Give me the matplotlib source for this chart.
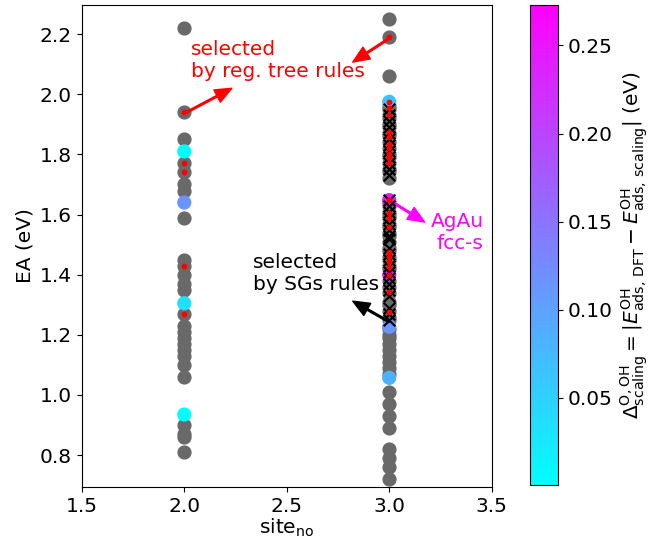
import numpy as np
import matplotlib
matplotlib.use("Agg")
import matplotlib.pyplot as plt

plt.rcParams['font.size'] = 14.5

# grey points (sites without scaling error colour)
ea_site2 = [2.22, 1.94, 1.85, 1.77, 1.74, 1.70, 1.68, 1.59, 1.45, 1.43, 1.40, 1.37,
            1.35, 1.27, 1.23, 1.21, 1.19, 1.17, 1.15, 1.13, 1.10, 1.06, 0.90, 0.87,
            0.86, 0.81]
ea_site3 = [2.25, 2.19, 2.06, 1.96, 1.95, 1.93, 1.92, 1.90, 1.89, 1.87, 1.86, 1.84,
            1.82, 1.80, 1.79, 1.77, 1.75, 1.74, 1.72, 1.64, 1.63, 1.61, 1.60, 1.59,
            1.57, 1.56, 1.54, 1.53, 1.51, 1.49, 1.48, 1.46, 1.45, 1.43, 1.42, 1.38,
            1.36, 1.34, 1.31, 1.30, 1.28, 1.26, 1.25, 1.22, 1.20, 1.19, 1.17, 1.15,
            1.13, 1.11, 1.09, 1.07, 1.01, 0.97, 0.93, 0.89, 0.82, 0.79, 0.76, 0.72]

# coloured points: site, EA, delta scaling
col_site = [2, 2, 2, 2, 3, 3, 3, 3, 3]
col_ea = [1.81, 1.64, 1.305, 0.935, 1.975, 1.648, 1.399, 1.227, 1.057]
col_delta = [0.004, 0.115, 0.035, 0.004, 0.065, 0.25, 0.25, 0.115, 0.085]

# selected by regression tree rules (red dots)
tree_site = [2, 2, 2, 2, 2] + [3] * 22
tree_ea = [1.94, 1.77, 1.74, 1.43, 1.27,
           2.19, 1.975, 1.953, 1.931, 1.875, 1.858, 1.836, 1.82, 1.803, 1.787, 1.77,
           1.648, 1.604, 1.587, 1.559, 1.476, 1.459, 1.443, 1.426, 1.399, 1.343, 1.276]

# selected by SGs rules (black crosses)
sg_ea = [1.95, 1.93, 1.91, 1.89, 1.87, 1.85, 1.83, 1.81, 1.79, 1.77, 1.75, 1.73,
         1.65, 1.63, 1.61, 1.59, 1.57, 1.55, 1.53, 1.52, 1.49, 1.47, 1.45, 1.43,
         1.41, 1.39, 1.37, 1.35, 1.33, 1.29, 1.27, 1.25]

fig = plt.figure(figsize=(6.6, 5.42), dpi=100)
ax = fig.add_axes([0.124, 0.1015, 0.621, 0.8893])
cax = fig.add_axes([0.803, 0.105, 0.042, 0.886])

ax.scatter([2] * len(ea_site2), ea_site2, s=85, color='dimgray', zorder=2)
ax.scatter([3] * len(ea_site3), ea_site3, s=85, color='dimgray', zorder=2)
sc = ax.scatter(col_site, col_ea, c=col_delta, cmap='cool', vmin=0.0005, vmax=0.273,
                s=85, zorder=3)
ax.scatter([3] * len(sg_ea), sg_ea, marker='x', s=70, color='black', linewidths=1.5, zorder=4)
ax.scatter(tree_site, tree_ea, s=10, color='red', zorder=5)

arrow = dict(width=1.2, headwidth=10, headlength=12, shrink=0)

ax.text(2.032, 2.18, 'selected\nby reg. tree rules', color='red', va='top', ha='left')
ax.annotate('', xy=(2.232, 2.02), xytext=(2, 1.936), arrowprops=dict(color='red', **arrow))
ax.annotate('', xy=(2.822, 2.107), xytext=(3, 2.186), arrowprops=dict(color='red', **arrow))

ax.text(2.334, 1.472, 'selected\nby SGs rules', color='black', va='top', ha='left')
ax.annotate('', xy=(2.822, 1.312), xytext=(3, 1.243), arrowprops=dict(color='black', **arrow))

ax.text(3.461, 1.541, 'AgAu\nfcc-s', color='magenta', va='center', ha='right',
        multialignment='right')
ax.annotate('', xy=(3.173, 1.575), xytext=(3, 1.648), arrowprops=dict(color='magenta', **arrow))

ax.set_xlim(1.5, 3.5)
ax.set_ylim(0.694, 2.297)
ax.set_xticks([1.5, 2.0, 2.5, 3.0, 3.5])
ax.set_xlabel(r'site$_{\rm no}$', labelpad=1)
ax.set_ylabel('EA (eV)')

cb = fig.colorbar(sc, cax=cax)
cb.set_ticks([0.05, 0.10, 0.15, 0.20, 0.25])
cb.set_label(r'$\Delta^{\rm O,OH}_{\rm scaling} = |E^{\rm OH}_{\rm ads,\,DFT} - E^{\rm OH}_{\rm ads,\,scaling}|$ (eV)')

fig.savefig('out.png', dpi=100)
